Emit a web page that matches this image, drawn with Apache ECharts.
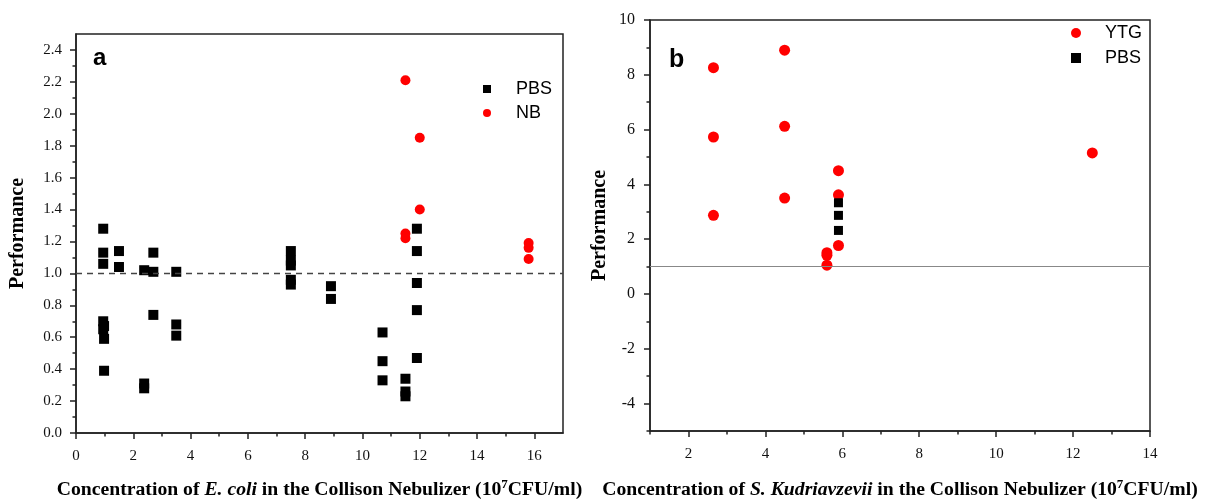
<!DOCTYPE html>
<html><head><meta charset="utf-8">
<script src="https://cdn.jsdelivr.net/npm/echarts@6/dist/echarts.min.js"></script>
<style>html,body{margin:0;padding:0;background:#fff}#c{width:1213px;height:501px}</style>
</head><body><div id="c"></div>
<script>
// Panel a: E. coli
const aPBS = [[0.95,1.28],[0.95,1.13],[0.95,1.06],[0.95,0.70],[0.98,0.67],[0.95,0.65],[0.98,0.59],[0.98,0.39],
  [1.5,1.14],[1.5,1.04],[2.38,1.02],[2.38,0.31],[2.38,0.28],[2.7,1.13],[2.7,1.01],[2.7,0.74],
  [3.5,1.01],[3.5,0.68],[3.5,0.61],[7.5,1.14],[7.5,1.08],[7.5,1.05],[7.5,0.96],[7.5,0.93],
  [8.9,0.92],[8.9,0.84],[10.7,0.63],[10.7,0.45],[10.7,0.33],[11.5,0.34],[11.5,0.26],[11.5,0.23],
  [11.9,1.28],[11.9,1.14],[11.9,0.94],[11.9,0.77],[11.9,0.47]];
const aNB = [[11.5,2.21],[12.0,1.85],[12.0,1.40],[11.5,1.25],[11.5,1.22],[15.8,1.19],[15.8,1.16],[15.8,1.09]];
// Panel b: S. Kudriavzevii
const bYTG = [[2.65,8.26],[2.65,5.73],[2.65,2.87],[4.5,8.9],[4.5,6.12],[4.5,3.5],[5.9,4.5],[5.9,3.62],[5.9,1.77],
  [5.6,1.51],[5.6,1.41],[5.6,1.05],[12.5,5.15]];
const bPBS = [[5.9,3.33],[5.9,2.87],[5.9,2.32]];
// tick labels
const aXTicks = [0,2,4,6,8,10,12,14,16];
const aXMinor = [1,3,5,7,9,11,13,15];
const aYTicks = [0,0.2,0.4,0.6,0.8,1.0,1.2,1.4,1.6,1.8,2.0,2.2,2.4];
const aYMinor = [0.1,0.3,0.5,0.7,0.9,1.1,1.3,1.5,1.7,1.9,2.1,2.3];
const bXTicks = [2,4,6,8,10,12,14];
const bXMinor = [1,3,5,7,9,11,13];
const bYTicks = [-4,-2,0,2,4,6,8,10];
const bYMinor = [-5,-3,-1,1,3,5,7,9];
const refLine = 1;

const serif = 'Liberation Serif';
const sans = 'Liberation Sans';
const lineStyle = {color:'#222', width:1.5};

function mainAxis(o){
  return Object.assign({
    type:'value', splitLine:{show:false},
    axisLine:{show:true, onZero:false, lineStyle},
    axisTick:{show:true, inside:false, length:6, lineStyle, customValues:o.ticks},
    axisLabel:{show:true, customValues:o.ticks, fontFamily:serif, fontSize:o.fs, color:'#111', margin:o.margin,
      formatter:o.fmt||(v=>String(v))},
    nameLocation:'middle'
  }, o.extra);
}
function minorAxis(o){
  return Object.assign({
    type:'value', splitLine:{show:false},
    axisLine:{show:false, onZero:false},
    axisTick:{show:true, inside:false, length:3.5, lineStyle, customValues:o.ticks},
    axisLabel:{show:false}
  }, o.extra);
}
const xName = {
  fontFamily:serif, fontSize:19.7, fontWeight:'bold', color:'#000',
  rich:{
    i:{fontFamily:serif, fontSize:19.7, fontWeight:'bold', fontStyle:'italic', color:'#000'},
    s:{fontFamily:serif, fontSize:13, fontWeight:'bold', color:'#000', padding:[0,0,10,0]}
  }
};
const yName = {fontFamily:serif, fontSize:20, fontWeight:'bold', color:'#000'};

const option = {
  animation:false,
  backgroundColor:'#fff',
  grid:[
    {left:76, top:34, width:487, height:399, show:true, borderColor:'#222', borderWidth:1.5, containLabel:false, outerBoundsMode:'none'},
    {left:650, top:20, width:500, height:411, show:true, borderColor:'#222', borderWidth:1.5, containLabel:false, outerBoundsMode:'none'}
  ],
  title:[
    {text:'a', left:93, top:46, padding:0, textStyle:{fontFamily:sans, fontWeight:'bold', fontSize:24, color:'#000'}},
    {text:'b', left:669, top:48, padding:0, textStyle:{fontFamily:sans, fontWeight:'bold', fontSize:25, color:'#000'}}
  ],
  legend:[
    {orient:'vertical', left:483, top:80, padding:0, itemWidth:8, itemHeight:8, itemGap:6,
      textStyle:{fontFamily:sans, fontSize:18, lineHeight:18, color:'#000', padding:[0,0,0,20]},
      data:[{name:'PBS', icon:'rect'},{name:'NB', icon:'circle'}]},
    {orient:'vertical', left:1071, top:24, padding:0, itemWidth:10, itemHeight:10, itemGap:7,
      textStyle:{fontFamily:sans, fontSize:18, lineHeight:18, color:'#000', padding:[0,0,0,19]},
      data:[{name:'YTG', icon:'circle'},{name:'PBS', icon:'rect'}]}
  ],
  xAxis:[
    mainAxis({ticks:aXTicks, fs:15, margin:16, extra:{gridIndex:0, min:0, max:17, position:'bottom',
      name:'Concentration of {i|E. coli} in the Collison Nebulizer (10{s|7}CFU/ml)', nameGap:45, nameTextStyle:xName}}),
    minorAxis({ticks:aXMinor, extra:{gridIndex:0, min:0, max:17, position:'bottom'}}),
    mainAxis({ticks:bXTicks, fs:15, margin:16, extra:{gridIndex:1, min:1, max:14, position:'bottom',
      name:'Concentration of {i|S. Kudriavzevii} in the Collison Nebulizer (10{s|7}CFU/ml)', nameGap:47, nameTextStyle:xName}}),
    minorAxis({ticks:bXMinor, extra:{gridIndex:1, min:1, max:14, position:'bottom'}})
  ],
  yAxis:[
    mainAxis({ticks:aYTicks, fs:15, margin:14, fmt:v=>v.toFixed(1), extra:{gridIndex:0, min:0, max:2.5, position:'left',
      name:'Performance', nameGap:48, nameTextStyle:yName}}),
    minorAxis({ticks:aYMinor, extra:{gridIndex:0, min:0, max:2.5, position:'left'}}),
    mainAxis({ticks:bYTicks, fs:16, margin:15, extra:{gridIndex:1, min:-5, max:10, position:'left',
      name:'Performance', nameGap:40, nameTextStyle:yName}}),
    minorAxis({ticks:bYMinor, extra:{gridIndex:1, min:-5, max:10, position:'left'}})
  ],
  series:[
    {name:'PBS', type:'scatter', xAxisIndex:0, yAxisIndex:0, symbol:'rect', symbolSize:10,
      itemStyle:{color:'#000', opacity:1}, data:aPBS,
      markLine:{silent:true, symbol:'none', label:{show:false},
        lineStyle:{color:'#444', type:[6,5], width:1.3}, data:[{yAxis:refLine}]}},
    {name:'NB', type:'scatter', xAxisIndex:0, yAxisIndex:0, symbol:'circle', symbolSize:10,
      itemStyle:{color:'#ff0000', opacity:1}, data:aNB},
    {name:'YTG', type:'scatter', xAxisIndex:2, yAxisIndex:2, symbol:'circle', symbolSize:11,
      itemStyle:{color:'#ff0000', opacity:1}, data:bYTG,
      markLine:{silent:true, symbol:'none', label:{show:false},
        lineStyle:{color:'#888', type:'solid', width:1.2}, data:[{yAxis:refLine}]}},
    {name:'PBS', type:'scatter', xAxisIndex:2, yAxisIndex:2, symbol:'rect', symbolSize:9,
      itemStyle:{color:'#000', opacity:1}, data:bPBS}
  ]
};
const chart = echarts.init(document.getElementById('c'), null, {renderer:'canvas'});
chart.setOption(option);
</script></body></html>
